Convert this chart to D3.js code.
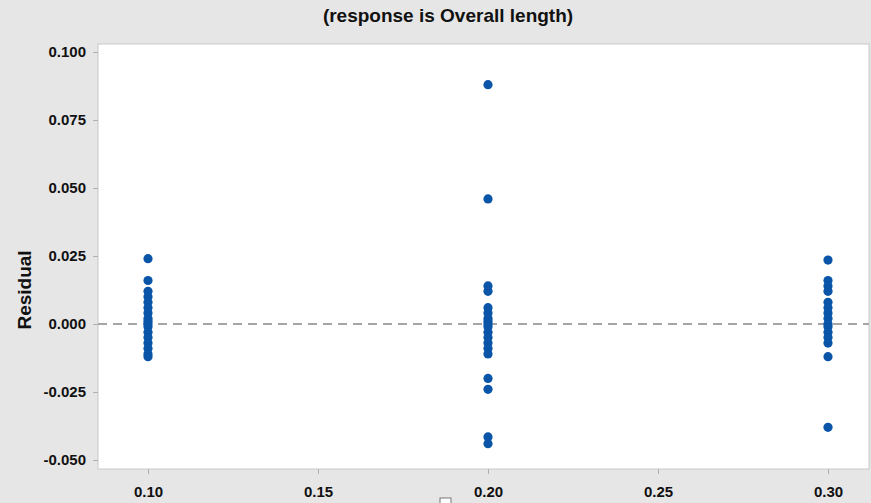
<!DOCTYPE html>
<html>
<head>
<meta charset="utf-8">
<script src="https://cdn.jsdelivr.net/npm/d3@7"></script>
<style>
  body { margin: 0; background: #e6e6e6; }
  svg { display: block; font-family: "Liberation Sans", Arial, sans-serif; }
</style>
</head>
<body>
<script>
let w = 871;
let h = 503;

// residuals grouped by x level
let levels = [0.10, 0.20, 0.30];
let resid010 = [0.024, 0.016, 0.012, 0.010, 0.008, 0.006, 0.004, 0.002, 0.001, 0.000, -0.001,
                -0.003, -0.005, -0.007, -0.009, -0.011, -0.012];
let resid020 = [0.088, 0.046, 0.014, 0.012, 0.006, 0.004, 0.002, 0.001, 0.000, -0.001, -0.003,
                -0.005, -0.007, -0.009, -0.011, -0.020, -0.024, -0.0415, -0.044];
let resid030 = [0.0235, 0.016, 0.014, 0.012, 0.008, 0.006, 0.004, 0.002, 0.000, -0.001, -0.003,
                -0.005, -0.007, -0.012, -0.038];
let xTicks = [0.10, 0.15, 0.20, 0.25, 0.30];
let yTicks = [-0.050, -0.025, 0.000, 0.025, 0.050, 0.075, 0.100];

let plot = {left: 98, top: 44, right: 869, bottom: 469};

let svg = d3.select("body")
            .append("svg")
            .attr("width", w)
            .attr("height", h);

svg.append("rect")
   .attr("width", w)
   .attr("height", h)
   .attr("fill", "#e6e6e6");

let xScale = d3.scaleLinear([0.10, 0.30], [148, 828]);
let yScale = d3.scaleLinear([-0.05, 0.10], [460, 52]);

svg.append("rect")
   .attr("x", plot.left)
   .attr("y", plot.top)
   .attr("width", plot.right - plot.left)
   .attr("height", plot.bottom - plot.top)
   .attr("fill", "#fff")
   .attr("stroke", "#c8c8c8");

// axes (plain hyphen for negatives, like the original)
const fmt = (spec) => (d) => d3.format(spec)(d).replace("\u2212", "-");
let xAxis = d3.axisBottom(xScale).tickValues(xTicks).tickFormat(fmt(".2f")).tickSize(5).tickSizeOuter(0);
let yAxis = d3.axisLeft(yScale).tickValues(yTicks).tickFormat(fmt(".3f")).tickSize(5).tickSizeOuter(0);

let gx = svg.append("g")
   .attr("transform", `translate(0, ${plot.bottom})`)
   .call(xAxis);
let gy = svg.append("g")
   .attr("transform", `translate(${plot.left}, 0)`)
   .call(yAxis);

[gx, gy].forEach(g => {
  g.select(".domain").remove();
  g.selectAll(".tick line").attr("stroke", "#b0b0b0");
  g.selectAll(".tick text")
   .attr("fill", "#111")
   .style("font-size", "15px")
   .style("font-weight", "bold");
});
gx.selectAll(".tick text").attr("dy", "1.3em");
gy.selectAll(".tick text").attr("x", -12);

// reference line at zero
svg.append("line")
   .attr("x1", plot.left)
   .attr("x2", plot.right)
   .attr("y1", yScale(0))
   .attr("y2", yScale(0))
   .attr("stroke", "#a5a5a5")
   .attr("stroke-width", 2)
   .attr("stroke-dasharray", "9,6");

let points = [];
[resid010, resid020, resid030].forEach((arr, i) => {
  arr.forEach(v => points.push({x: levels[i], r: v}));
});

svg.selectAll("circle.dot")
   .data(points)
   .enter()
   .append("circle")
   .attr("class", "dot")
   .attr("cx", d => xScale(d.x))
   .attr("cy", d => yScale(d.r))
   .attr("r", 4.6)
   .attr("fill", "#0b55a8");

// title & label
svg.append("text")
   .text("(response is Overall length)")
   .attr("x", 448)
   .attr("y", 22)
   .attr("text-anchor", "middle")
   .style("font-size", "19px")
   .style("font-weight", "bold")
   .attr("fill", "#111");

svg.append("text")
   .text("Residual")
   .attr("transform", `translate(31, ${yScale(0.0125)}) rotate(-90)`)
   .attr("text-anchor", "middle")
   .style("font-size", "19px")
   .style("font-weight", "bold")
   .attr("fill", "#111");

// small box under the axis
svg.append("rect")
   .attr("x", 440)
   .attr("y", 498)
   .attr("width", 11)
   .attr("height", 10)
   .attr("fill", "#fff")
   .attr("stroke", "#777");
</script>
</body>
</html>
